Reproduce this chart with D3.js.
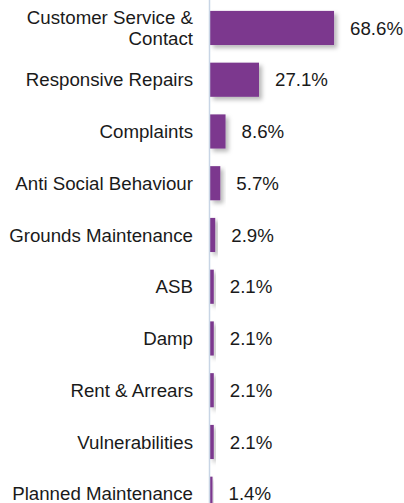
<!DOCTYPE html>
<html>
<head>
<meta charset="utf-8">
<script src="https://cdn.jsdelivr.net/npm/d3@7"></script>
<style>
  html, body { margin: 0; padding: 0; background: #ffffff; }
  svg { display: block; }
  text { font-family: "Liberation Sans", Arial, sans-serif; fill: #1a1a1a; }
</style>
</head>
<body>
<svg id="chart" width="404" height="503"></svg>
<script>
// Share of contacts by category (%)
const categories = [
  "Customer Service & Contact",
  "Responsive Repairs",
  "Complaints",
  "Anti Social Behaviour",
  "Grounds Maintenance",
  "ASB",
  "Damp",
  "Rent & Arrears",
  "Vulnerabilities",
  "Planned Maintenance"
];
const values = [68.6, 27.1, 8.6, 5.7, 2.9, 2.1, 2.1, 2.1, 2.1, 1.4];
// Category labels split over lines where they wrap
const labelLines = [
  ["Customer Service &", "Contact"],
  ["Responsive Repairs"],
  ["Complaints"],
  ["Anti Social Behaviour"],
  ["Grounds Maintenance"],
  ["ASB"],
  ["Damp"],
  ["Rent & Arrears"],
  ["Vulnerabilities"],
  ["Planned Maintenance"]
];

const svg = d3.select("#chart");
const axisX = 209.5;
const barX0 = 210;
const fontSize = 18.7;

const x = d3.scaleLinear().domain([0, 100]).range([barX0, barX0 + 180.8]);
const y = d3.scaleBand()
  .domain(categories)
  .range([2.1, 519.6])
  .paddingInner(0.34)
  .paddingOuter(0.17);

const defs = svg.append("defs");
const shadow = defs.append("filter")
  .attr("id", "barShadow")
  .attr("x", "-50%").attr("y", "-50%")
  .attr("width", "200%").attr("height", "200%");
shadow.append("feDropShadow")
  .attr("dx", 3).attr("dy", 3)
  .attr("stdDeviation", 2)
  .attr("flood-color", "#000")
  .attr("flood-opacity", 0.28);

const data = categories.map((c, i) => ({ cat: c, value: values[i], lines: labelLines[i] }));

// Bars
svg.append("g")
  .selectAll("rect")
  .data(data)
  .join("rect")
  .attr("x", barX0)
  .attr("y", d => y(d.cat))
  .attr("width", d => x(d.value) - barX0)
  .attr("height", y.bandwidth())
  .attr("fill", "#7B398E")
  .attr("filter", "url(#barShadow)");

// Vertical category axis line
svg.append("line")
  .attr("x1", axisX).attr("x2", axisX)
  .attr("y1", 0).attr("y2", 503)
  .attr("stroke", "#C8D5E5")
  .attr("stroke-width", 1.5);

// Category labels
const lineH = 20.7;
const capHalf = 6.6;
const labels = svg.append("g")
  .selectAll("text")
  .data(data)
  .join("text")
  .attr("text-anchor", "end")
  .attr("font-size", fontSize)
  .attr("y", d => {
    const c = y(d.cat) + y.bandwidth() / 2;
    return c + capHalf - (d.lines.length - 1) * lineH / 2;
  });
labels.each(function(d) {
  const t = d3.select(this);
  d.lines.forEach((ln, j) => {
    t.append("tspan")
      .attr("x", 193)
      .attr("dy", j === 0 ? 0 : lineH)
      .text(ln);
  });
});

// Value labels
svg.append("g")
  .selectAll("text")
  .data(data)
  .join("text")
  .attr("x", d => x(d.value) + 16)
  .attr("y", d => y(d.cat) + y.bandwidth() / 2 + capHalf)
  .attr("font-size", fontSize)
  .text(d => d.value.toFixed(1) + "%");
</script>
</body>
</html>
